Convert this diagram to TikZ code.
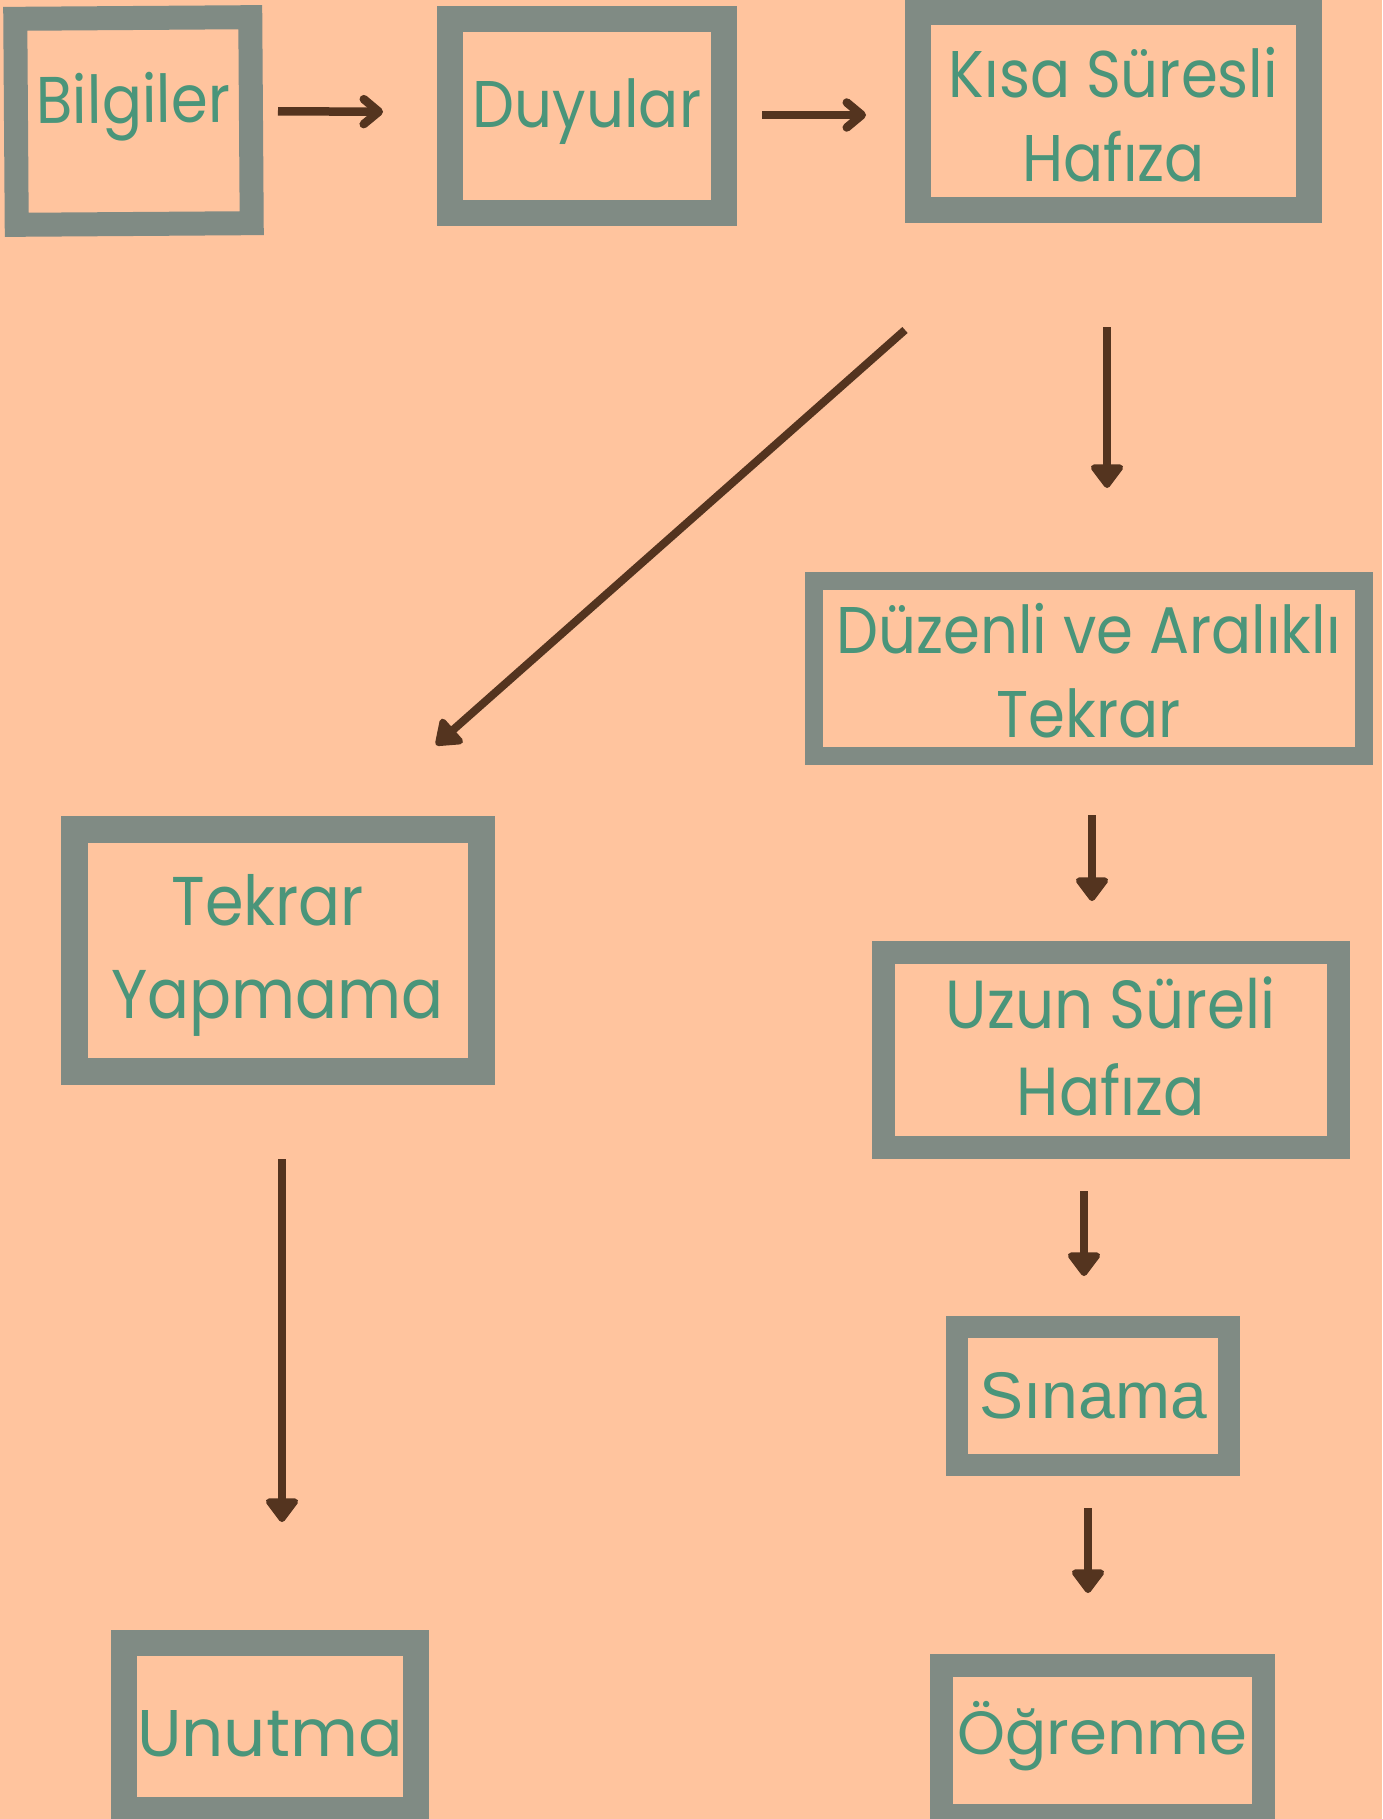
\documentclass[tikz,border=0pt]{standalone}
\usepackage{fontspec}
\usetikzlibrary{arrows.meta}
\setmainfont{Poppins}
\newfontfamily\geofont[FakeStretch=0.9]{Poppins}
\newfontfamily\arialfont{Liberation Sans}
\newfontfamily\widefont{Poppins}
\definecolor{bgpeach}{RGB}{255,196,158}
\definecolor{boxgray}{RGB}{128,139,132}
\definecolor{txtgreen}{RGB}{74,149,122}
\definecolor{arrbrown}{RGB}{84,52,31}

\begin{document}
\begin{tikzpicture}[x=0.5pt, y=-0.5pt, box/.style={rectangle, draw=boxgray, inner sep=0pt, outer sep=0pt, text=txtgreen, align=center, font=\geofont\fontsize{33pt}{42pt}\selectfont}, barb/.style={draw=arrbrown, line width=4.25pt, -{Straight Barb[round, length=7.5pt, width=12.5pt]}}, tri/.style={draw=arrbrown, line width=4pt, -{Triangle[round, length=13pt, width=18.5pt]}}]

		\fill[bgpeach] (0, 0) rectangle (1382, 1819);
		\useasboundingbox (0, 0) rectangle (1382, 1819);

		\node[box, line width=12pt, minimum width=117.5pt, minimum height=103pt, rotate=0.4, text height=22pt, text depth=20pt] (bilgiler) at (133.5, 121) {Bilgiler};
		\node[box, line width=13pt, minimum width=137pt, minimum height=97pt, text height=32pt, text depth=20pt] (duyular) at (587, 116) {Duyular};
		\node[box, line width=13pt, minimum width=195.5pt, minimum height=99pt, text height=75pt, text depth=4pt] (kisa) at (1113.5, 111) {Kısa Süresli\\Hafıza};
		\node[box, line width=9pt, minimum width=275pt, minimum height=87.5pt, text height=72pt, text depth=3.5pt] (duzenli) at (1088.5, 668.5) {Düzenli ve Aralıklı\\Tekrar};
		\node[box, line width=13.5pt, minimum width=203.25pt, minimum height=121pt, text height=72pt, text depth=4pt, font=\geofont\fontsize{34.5pt}{46.5pt}\selectfont] (yapmama) at (277.75, 950) {Tekrar\hspace*{10pt}\\Yapmama};
		\node[box, line width=11.5pt, minimum width=227.25pt, minimum height=97.25pt, text height=69pt, text depth=3.75pt, font=\geofont\fontsize{34pt}{43.5pt}\selectfont] (uzun) at (1110.75, 1049.75) {Uzun Süreli\\Hafıza};
		\node[box, line width=11pt, minimum width=136pt, minimum height=69pt, text height=30pt, text depth=8pt, font=\arialfont\fontsize{33pt}{38pt}\selectfont] (sinama) at (1093, 1396) {Sınama};
		\node[box, line width=13pt, minimum width=146pt, minimum height=83.5pt, text height=34pt, text depth=4.5pt, font=\widefont\fontsize{33pt}{40pt}\selectfont] (unutma) at (270, 1726.5) {Unutma};
		\node[box, line width=11.5pt, minimum width=161pt, minimum height=74.75pt, text height=30pt, text depth=16.25pt, font=\widefont\fontsize{30.5pt}{38pt}\selectfont] (ogrenme) at (1102.5, 1740.25) {Öğrenme};

		\draw[barb, shorten <=13.5pt, shorten >=33.5pt] ([yshift=4.5pt]bilgiler.east) -- ([yshift=2pt]duyular.west);
		\draw[barb, shorten <=19pt, shorten >=26pt] ([yshift=0.5pt]duyular.east) -- ([yshift=-2pt]kisa.west);
		\draw[tri] ([xshift=-6.5pt, yshift=-60pt]kisa.south west) -- ([xshift=-22.5pt, yshift=42pt]yapmama.north east);
		\draw[tri, shorten <=58.5pt, shorten >=46.5pt] ([xshift=-3.25pt]kisa.south) -- ([xshift=9.25pt]duzenli.north);
		\draw[tri, shorten <=29.5pt, shorten >=25.75pt] ([xshift=1.75pt]duzenli.south) -- ([xshift=-9.375pt]uzun.north);
		\draw[tri, shorten <=22pt, shorten >=25.5pt] ([xshift=-13.375pt]uzun.south) -- ([xshift=-4.5pt]sinama.north);
		\draw[tri, shorten <=21.5pt, shorten >=36.25pt] ([xshift=-2.5pt]sinama.south) -- ([xshift=-7.25pt]ogrenme.north);
		\draw[tri, shorten <=44pt, shorten >=60.5pt] ([xshift=2.125pt]yapmama.south) -- ([xshift=6pt]unutma.north);
	\end{tikzpicture}
\end{document}
